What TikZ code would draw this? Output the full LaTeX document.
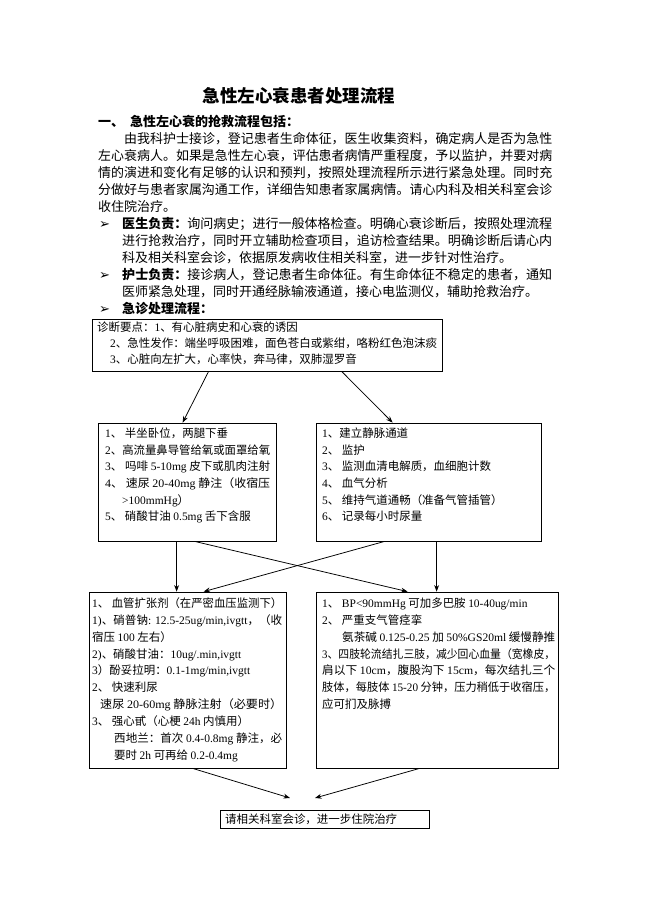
\documentclass[tikz,border=0pt]{standalone}
\usepackage{fontspec}
\usepackage{graphicx}
\setmainfont{Noto Sans CJK SC}
\newfontfamily\tmrfont{Liberation Serif}
\newfontfamily\djv{DejaVu Sans}
\newcommand\tmr[1]{{\tmrfont #1}}
\newlength\px
\setlength\px{0.9158pt}
\newcommand\fitw[2]{\resizebox{#1\px}{\height}{#2}}
\usetikzlibrary{arrows.meta,fit,calc}
\tikzset{
  bodyt/.style={anchor=base west, inner sep=0pt, font=\fontsize{11.9}{14}\selectfont},
  bodyb/.style={anchor=base west, inner sep=0pt, font=\fontsize{11.9}{14}\selectfont\bfseries},
  bult/.style={anchor=base west, inner sep=0pt, font=\fontsize{12}{14}\djv},
  boxt/.style={anchor=base west, inner sep=0pt, font=\fontsize{10.5}{12}\selectfont},
  boxframe/.style={draw, line width=0.7pt, inner sep=0pt},
  arr/.style={line width=0.7pt, -{Stealth[length=6pt,width=4.5pt]}},
}
\begin{document}
\begin{tikzpicture}[x=0.9158pt,y=-0.9158pt]
\useasboundingbox[fill=white] (0,0) rectangle (650,920);

% title and heading
\node[anchor=base, inner sep=0pt, font=\fontsize{16}{18}\selectfont\bfseries] (title) at (299,102.5) {急性左心衰患者处理流程};
\node[bodyb] (h1a) at (98,126) {一、};
\node[bodyb] (h1b) at (130,126) {急性左心衰的抢救流程包括：};

% paragraph
\node[bodyt] (p1) at (124,143) {\fitw{428}{由我科护士接诊，登记患者生命体征，医生收集资料，确定病人是否为急性}};
\node[bodyt] (p2) at (98,160) {\fitw{454}{左心衰病人。如果是急性左心衰，评估患者病情严重程度，予以监护，并要对病}};
\node[bodyt] (p3) at (98,177) {\fitw{454}{情的演进和变化有足够的认识和预判，按照处理流程所示进行紧急处理。同时充}};
\node[bodyt] (p4) at (98,194) {\fitw{454}{分做好与患者家属沟通工作，详细告知患者家属病情。请心内科及相关科室会诊}};
\node[bodyt] (p5) at (98,211) {收住院治疗。};

% bullets
\node[bult] (k1) at (99,228) {➢};
\node[bodyt] (q1) at (122,228) {\fitw{430}{\textbf{医生负责：}询问病史；进行一般体格检查。明确心衰诊断后，按照处理流程}};
\node[bodyt] (q2) at (122,245) {\fitw{430}{进行抢救治疗，同时开立辅助检查项目，追访检查结果。明确诊断后请心内}};
\node[bodyt] (q3) at (122,262) {科及相关科室会诊，依据原发病收住相关科室，进一步针对性治疗。};
\node[bult] (k2) at (99,279) {➢};
\node[bodyt] (q4) at (122,279) {\fitw{430}{\textbf{护士负责：}接诊病人，登记患者生命体征。有生命体征不稳定的患者，通知}};
\node[bodyt] (q5) at (122,296) {医师紧急处理，同时开通经脉输液通道，接心电监测仪，辅助抢救治疗。};
\node[bult] (k3) at (99,313) {➢};
\node[bodyb] (q6) at (122,313) {急诊处理流程：};

% boxes
\node[boxframe, fit={(92,319) (442,371)}] (b1) {};
\node[boxframe, fit={(98,423) (276,541)}] (bL) {};
\node[boxframe, fit={(316,423) (541,541)}] (bR) {};
\node[boxframe, fit={(89,592) (286,768)}] (bLL) {};
\node[boxframe, fit={(316,592) (558,768)}] (bLR) {};
\node[boxframe, fit={(220,810) (429,828)}] (bF) {};

% box 1 text
\node[boxt] (a1) at (97,331.4) {诊断要点：\tmr{1}、有心脏病史和心衰的诱因};
\node[boxt] (a2) at (110,347.4) {\tmr{2}、急性发作：端坐呼吸困难，面色苍白或紫绀，咯粉红色泡沫痰};
\node[boxt] (a3) at (110,363.4) {\tmr{3}、心脏向左扩大，心率快，奔马律，双肺湿罗音};

% left box text
\node[boxt] (l1) at (105,437.4) {\tmr{1}、 半坐卧位，两腿下垂};
\node[boxt] (l2) at (105,454.1) {\fitw{165}{\tmr{2}、高流量鼻导管给氧或面罩给氧}};
\node[boxt] (l3) at (105,470.8) {\fitw{165}{\tmr{3}、 吗啡 \tmr{5-10mg} 皮下或肌肉注射}};
\node[boxt] (l4) at (105,487.5) {\fitw{165}{\tmr{4}、 速尿 \tmr{20-40mg} 静注（收宿压}};
\node[boxt] (l5) at (122,504.2) {\tmr{>100mmHg}）};
\node[boxt] (l6) at (105,520.9) {\tmr{5}、 硝酸甘油 \tmr{0.5mg} 舌下含服};

% right box text
\node[boxt] (r1) at (322,437.4) {\tmr{1}、建立静脉通道};
\node[boxt] (r2) at (322,454.1) {\tmr{2}、 监护};
\node[boxt] (r3) at (322,470.8) {\tmr{3}、 监测血清电解质，血细胞计数};
\node[boxt] (r4) at (322,487.5) {\tmr{4}、 血气分析};
\node[boxt] (r5) at (322,504.2) {\tmr{5}、 维持气道通畅（准备气管插管）};
\node[boxt] (r6) at (322,520.9) {\tmr{6}、 记录每小时尿量};

% lower left box text
\node[boxt] (m1) at (92,607.4) {\fitw{190}{\tmr{1}、 血管扩张剂（在严密血压监测下）}};
\node[boxt] (m2) at (92,624.2) {\fitw{190}{\tmr{1)}、硝普钠\tmr{: 12.5-25ug/min,ivgtt}，（收}};
\node[boxt] (m3) at (92,641.1) {宿压 \tmr{100} 左右）};
\node[boxt] (m4) at (92,658.0) {\tmr{2)}、硝酸甘油：\tmr{10ug/.min,ivgtt}};
\node[boxt] (m5) at (92,674.8) {\tmr{3}）酚妥拉明：\tmr{0.1-1mg/min,ivgtt}};
\node[boxt] (m6) at (92,691.6) {\tmr{2}、 快速利尿};
\node[boxt] (m7) at (100,708.5) {\fitw{182}{速尿 \tmr{20-60mg} 静脉注射（必要时）}};
\node[boxt] (m8) at (92,725.4) {\tmr{3}、 强心甙（心梗 \tmr{24h} 内慎用）};
\node[boxt] (m9) at (114,742.2) {\fitw{168}{西地兰：首次 \tmr{0.4-0.8mg} 静注，必}};
\node[boxt] (m10) at (114,759.0) {要时 \tmr{2h} 可再给 \tmr{0.2-0.4mg}};

% lower right box text
\node[boxt] (n1) at (322,607.4) {\tmr{1}、 \tmr{BP<90mmHg} 可加多巴胺 \tmr{10-40ug/min}};
\node[boxt] (n2) at (322,624.2) {\tmr{2}、 严重支气管痉挛};
\node[boxt] (n3) at (342,641.1) {\fitw{213}{氨茶碱 \tmr{0.125-0.25} 加 \tmr{50\%GS20ml} 缓慢静推}};
\node[boxt] (n4) at (322,658.0) {\fitw{233}{\tmr{3}、四肢轮流结扎三肢，减少回心血量（宽橡皮，}};
\node[boxt] (n5) at (322,674.8) {\fitw{233}{肩以下 \tmr{10cm}，腹股沟下 \tmr{15cm}，每次结扎三个}};
\node[boxt] (n6) at (322,691.6) {\fitw{233}{肢体，每肢体 \tmr{15-20} 分钟，压力稍低于收宿压，}};
\node[boxt] (n7) at (322,708.5) {应可扪及脉搏};

% final box text
\node[boxt] (f1) at (225,823.4) {请相关科室会诊，进一步住院治疗};

% arrows
\draw[arr] ($(b1.south west)+(117,0)$) -- ($(bL.north west)+(85,0)$);
\draw[arr] ($(b1.south west)+(250,0)$) -- ($(bR.north west)+(77,0)$);
\draw[arr] ($(bL.south west)+(79,0)$) -- ($(bLL.north west)+(88,0)$);
\draw[arr] ($(bL.south west)+(97,0)$) -- ($(bLR.north west)+(92,0)$);
\draw[arr] ($(bR.south west)+(69,0)$) -- ($(bLL.north west)+(115,0)$);
\draw[arr] ($(bR.south west)+(121,0)$) -- ($(bLR.north west)+(121,0)$);
\coordinate (e1) at (290,798);
\coordinate (e2) at (315,798);
\draw[arr] ($(bLL.south west)+(104,0)$) -- (e1);
\draw[arr] ($(bLR.south west)+(104,0)$) -- (e2);
\end{tikzpicture}
\end{document}
